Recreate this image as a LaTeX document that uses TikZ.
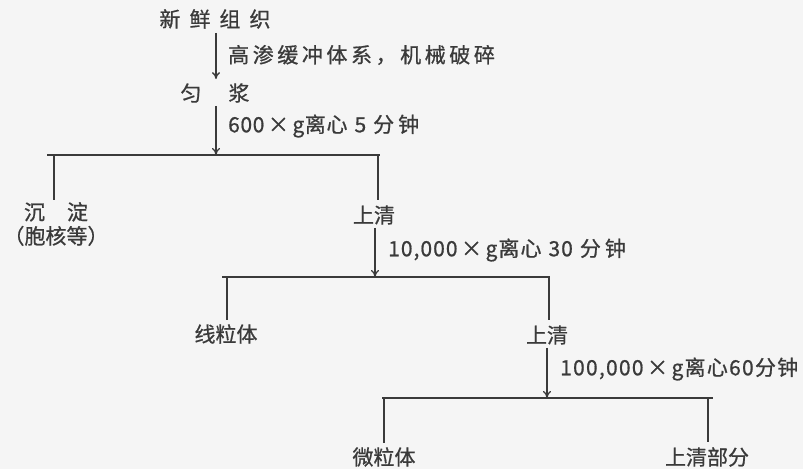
\documentclass[tikz,border=0pt]{standalone}
\usepackage{fontspec}
\setmainfont{Noto Sans CJK SC}[FakeBold=0.8]
\usetikzlibrary{arrows.meta}
\definecolor{ink}{HTML}{3A3A3A}
\definecolor{paper}{HTML}{F5F5F5}
\begin{document}
\begin{tikzpicture}[x=1pt,y=-1pt,
  txt/.style={inner sep=0pt, text=ink, font=\fontsize{21}{24}\selectfont},
  lab/.style={txt, anchor=west},
  wire/.style={draw=ink, line width=1.3pt},
  arr/.style={wire, -{To[length=7pt,width=8pt]}}]
\useasboundingbox[fill=paper] (0,0) rectangle (803,469);

% nodes
\node[txt] (tissue) at (215,19) {新\hspace{9pt}鲜\hspace{9pt}组\hspace{9pt}织};
\node[txt] (homog) at (215,93) {匀\hspace{27pt}浆};
\node[txt, align=center] (sed) at (56,224) {沉\hspace{22pt}淀\\（胞核等）};
\node[txt] (sup1) at (374,215) {上清};
\node[txt] (mito) at (226,334) {线粒体};
\node[txt] (sup2) at (547,335) {上清};
\node[txt] (micro) at (384,457) {微粒体};
\node[txt] (supfin) at (707,457) {上清部分};

% labels
\node[lab] (lab1) at (228,55) {\addfontfeature{LetterSpace=17}高渗缓冲体系，机械破碎};
\node[lab] (lab2) at (228,126) {\addfontfeature{LetterSpace=3}600\,×\,g离心\hspace{7pt}5\hspace{7pt}分\hspace{4pt}钟};
\node[lab] (lab3) at (388,250) {\addfontfeature{LetterSpace=5}10,000\,×\,g离心\hspace{7pt}30\hspace{7pt}分\hspace{4pt}钟};
\node[lab] (lab4) at (560,369) {\addfontfeature{LetterSpace=6}100,000\,×\,g离心60分钟};

% split-line coordinates
\coordinate (a1) at (47,155);  \coordinate (b1) at (380,155);
\coordinate (a2) at (222,277); \coordinate (b2) at (550,277);
\coordinate (a3) at (382,398); \coordinate (b3) at (713,398);
\coordinate (t1) at (216,155);
\coordinate (t2) at (375,277);
\coordinate (t3) at (547,398);
% branch ends
\coordinate (e1) at (54,200);  \coordinate (f1) at (378,200);
\coordinate (e2) at (227,320); \coordinate (f2) at (549,320);
\coordinate (e3) at (384,443); \coordinate (f3) at (708,442);

% arrows
\draw[arr, shorten <=4pt, shorten >=4pt] (tissue.south -| t1) -- (homog.north -| t1);
\draw[arr, shorten <=3pt] (homog.south -| t1) -- (t1);
\draw[arr, shorten <=3pt] (sup1.south -| t2) -- (t2);
\draw[arr, shorten <=3pt] (sup2.south -| t3) -- (t3);

% horizontal lines
\draw[wire] (a1) -- (b1);
\draw[wire] (a2) -- (b2);
\draw[wire] (a3) -- (b3);

% branches
\draw[wire] (e1 |- a1) -- (e1);
\draw[wire] (f1 |- a1) -- (f1);
\draw[wire] (e2 |- a2) -- (e2);
\draw[wire] (f2 |- a2) -- (f2);
\draw[wire] (e3 |- a3) -- (e3);
\draw[wire] (f3 |- a3) -- (f3);
\end{tikzpicture}
\end{document}
